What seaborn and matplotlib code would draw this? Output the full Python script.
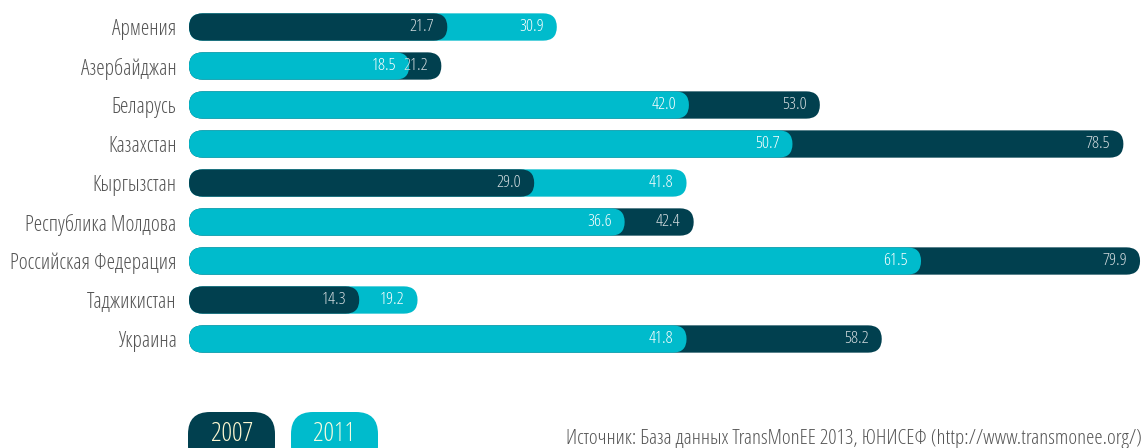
import numpy as np
import pandas as pd
import matplotlib
matplotlib.use("Agg")
import matplotlib.pyplot as plt
import seaborn as sns
from matplotlib.patches import FancyBboxPatch
from matplotlib.transforms import IdentityTransform
from matplotlib import font_manager

countries = ["Армения", "Азербайджан", "Беларусь", "Казахстан", "Кыргызстан",
             "Республика Молдова", "Российская Федерация", "Таджикистан", "Украина"]
v2007 = [21.7, 21.2, 53.0, 78.5, 29.0, 42.4, 79.9, 14.3, 58.2]
v2011 = [30.9, 18.5, 42.0, 50.7, 41.8, 36.6, 61.5, 19.2, 41.8]
years = ["2007", "2011"]
colors = {"2007": "#01404f", "2011": "#00bbcc"}
label_colors = {"2007": "#d5dde0", "2011": "#ffffff"}
source = "Источник: База данных TransMonEE 2013, ЮНИСЕФ (http://www.transmonee.org/)"

sns.set_theme(style="white")


def pick_narrow():
    best, best_score = None, -1
    for e in font_manager.fontManager.ttflist:
        fn = e.fname.lower()
        nm = e.name.lower()
        narrow = ("condensed" in fn or "narrow" in fn or "cond" in nm or "narrow" in nm
                  or str(e.stretch) in ("condensed", "semi-condensed", "extra-condensed"))
        if not narrow:
            continue
        if e.style != "normal" or "italic" in fn or "oblique" in fn:
            continue
        if "bold" in fn or (isinstance(e.weight, int) and e.weight >= 600):
            continue
        s = 1
        if "opensans" in fn.replace(" ", "") or "open sans" in nm:
            s += 40
        elif "roboto" in fn:
            s += 30
        elif "liberation" in fn:
            s += 20
        elif "dejavu" in fn:
            s += 10
        if "light" in fn:
            s += 5
        if s > best_score:
            best, best_score = e, s
    return best


entry = pick_narrow()
if entry is not None:
    plt.rcParams["font.family"] = [entry.name, "DejaVu Sans"]
    plt.rcParams["font.stretch"] = entry.stretch
    plt.rcParams["font.weight"] = entry.weight
    scale = 1.0
else:
    plt.rcParams["font.family"] = ["Roboto", "DejaVu Sans"]
    scale = 0.75

W, H = 1148, 448
fig = plt.figure(figsize=(W / 100, H / 100), dpi=100)
ax_left, ax_right = 189, 1146
ax_top, ax_bot = 7.5, 358.5
ax = fig.add_axes([ax_left / W, 1 - ax_bot / H, (ax_right - ax_left) / W, (ax_bot - ax_top) / H])

df = pd.DataFrame({
    "country": countries * 2,
    "value": v2007 + v2011,
    "year": ["2007"] * len(countries) + ["2011"] * len(countries),
})
bar_h = 0.7
sns.barplot(data=df, y="country", x="value", hue="year", palette=colors,
            dodge=False, orient="h", width=bar_h, ax=ax, legend=False,
            saturation=1)

xmax = 80.4
ax.set_xlim(0, xmax)
ax.set_ylim(len(countries) - 0.5, -0.5)

px_x = (ax_right - ax_left) / xmax
px_y = (ax_bot - ax_top) / len(countries)
rad_px = bar_h * px_y / 2
r_x = rad_px / px_x
asp = (rad_px / px_y) / r_x

for yi, cont in zip(years, ax.containers):
    other = v2011 if yi == "2007" else v2007
    for i, p in enumerate(list(cont.patches)):
        x0, y0 = p.get_x(), p.get_y()
        w, h = p.get_width(), p.get_height()
        z = 3 if w <= other[i] else 2
        fb = FancyBboxPatch((x0, y0), w, h,
                            boxstyle=f"round,pad=0,rounding_size={r_x*0.999}",
                            mutation_aspect=asp, facecolor=p.get_facecolor(),
                            edgecolor="none", zorder=z)
        ax.add_patch(fb)
        p.set_visible(False)
        ax.annotate(f"{w:.1f}", xy=(w, y0 + h / 2), xytext=(-13, 0),
                    textcoords="offset pixels", ha="right", va="center",
                    color=label_colors[yi], fontsize=12.5 * scale, zorder=10)

for s in ax.spines.values():
    s.set_visible(False)
ax.set_xlabel("")
ax.set_ylabel("")
ax.set_xticks([])
ax.tick_params(axis="y", length=0, pad=9, labelsize=15.5 * scale, labelcolor="#555555")

# legend pills
for x, yr in [(188, "2007"), (291, "2011")]:
    pill = FancyBboxPatch((x, -20), 87, 56,
                          boxstyle="round,pad=0,rounding_size=22",
                          transform=IdentityTransform(), facecolor=colors[yr],
                          edgecolor="none")
    fig.add_artist(pill)
    fig.text((x + 43.5) / W, 14 / H, yr, ha="center", va="center",
             fontsize=19 * scale, color="#fdf8d2" if yr == "2007" else "#f4fbe0")

fig.text(566 / W, 4 / H, source, ha="left", va="baseline",
         fontsize=15.1 * scale, color="#555555")

fig.savefig("out.png", dpi=100)
